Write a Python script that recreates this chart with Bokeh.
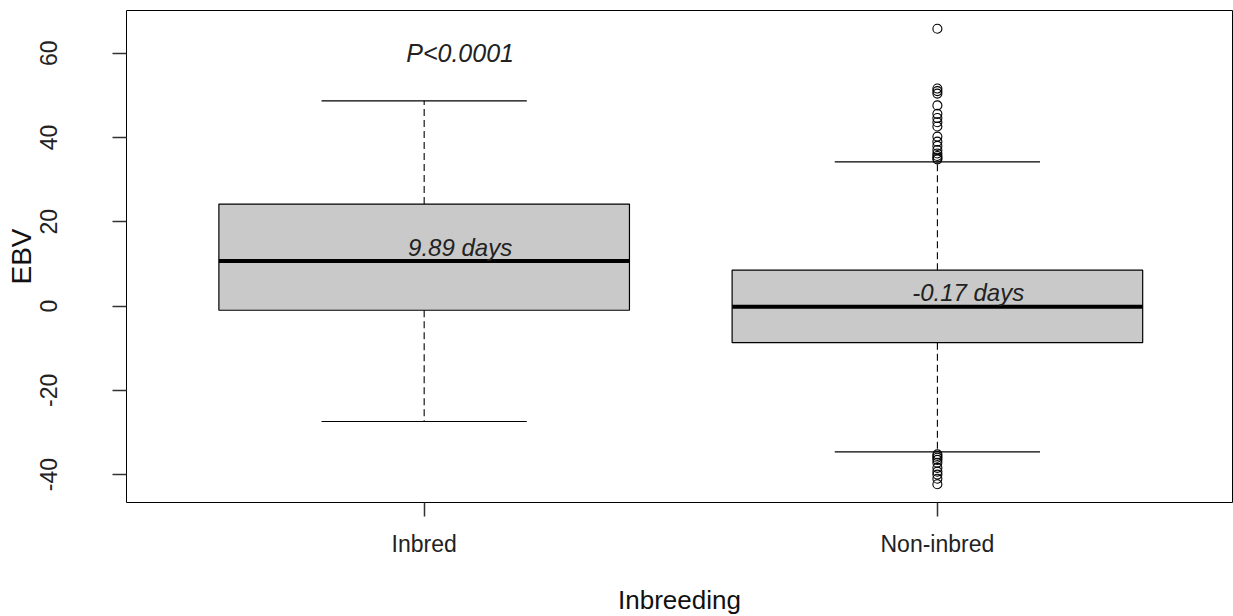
from bokeh.plotting import figure
from bokeh.models import Range1d, FixedTicker
from bokeh.core.properties import value
from bokeh.embed import file_html
from bokeh.resources import INLINE

# ---- data ----
groups = ["Inbred", "Non-inbred"]
lower_whisker = [-27.4, -34.6]
q1 = [-1.0, -8.7]
median = [10.7, -0.2]
q3 = [24.2, 8.5]
upper_whisker = [48.7, 34.2]
outliers_inbred = []
outliers_noninbred = [65.8, 51.6, 51.0, 50.4, 47.6, 45.6, 44.6, 43.6, 42.6, 40.2,
                      39.0, 38.0, 37.0, 36.2, 35.6, 35.2, 34.8,
                      -35.2, -35.6, -36.0, -36.5, -37.2, -38.4, -39.3, -40.0, -41.0, -42.3]
y_ticks = [-40, -20, 0, 20, 40, 60]
y_tick_labels = ["-40", "-20", "0", "20", "40", "60"]
p_text = "P<0.0001"
p_text_pos = (1.07, 60)
median_labels = ["9.89 days", "-0.17 days"]
median_label_pos = [(1.07, 14.0), (2.06, 3.2)]

FONT = "Liberation Sans"
pos = [i + 1 for i in range(len(groups))]
outliers = [outliers_inbred, outliers_noninbred]

allv = lower_whisker + upper_whisker + outliers_inbred + outliers_noninbred
lo, hi = min(allv), max(allv)
pad = 0.04 * (hi - lo)

p = figure(frame_width=1106, frame_height=492,
           x_range=Range1d(0.42, 2.575), y_range=Range1d(lo - pad, hi + pad),
           output_backend="svg", toolbar_location=None, tools="",
           min_border_left=126, min_border_right=1, min_border_top=10, min_border_bottom=110)
p.grid.visible = False
p.outline_line_color = "black"
p.outline_line_width = 1
p.background_fill_color = "white"
p.border_fill_color = "white"

# whiskers (dashed)
p.segment(x0=pos, y0=q3, x1=pos, y1=upper_whisker, line_color="black", line_width=1.1, line_dash="7 4")
p.segment(x0=pos, y0=q1, x1=pos, y1=lower_whisker, line_color="black", line_width=1.1, line_dash="7 4")
# caps
p.segment(x0=[x - 0.2 for x in pos], y0=upper_whisker, x1=[x + 0.2 for x in pos], y1=upper_whisker,
          line_color="black", line_width=1.2)
p.segment(x0=[x - 0.2 for x in pos], y0=lower_whisker, x1=[x + 0.2 for x in pos], y1=lower_whisker,
          line_color="black", line_width=1.2)
# boxes
p.quad(left=[x - 0.4 for x in pos], right=[x + 0.4 for x in pos], bottom=q1, top=q3,
       fill_color="#c8c9c8", line_color="black", line_width=1.2)
# medians
p.segment(x0=[x - 0.4 for x in pos], y0=median, x1=[x + 0.4 for x in pos], y1=median,
          line_color="black", line_width=4)
# outliers
ox, oy = [], []
for x, vals in zip(pos, outliers):
    ox += [x] * len(vals)
    oy += vals
p.scatter(ox, oy, marker="circle", size=9, fill_color=None, line_color="black", line_width=1.1)

# annotations
p.text(x=[p_text_pos[0]], y=[p_text_pos[1]], text=[p_text], text_font=value(FONT),
       text_font_style="italic", text_font_size="25px", text_align="center",
       text_baseline="middle", text_color="#222222")
p.text(x=[a for a, b in median_label_pos], y=[b for a, b in median_label_pos], text=median_labels,
       text_font=value(FONT), text_font_style="italic", text_font_size="24px",
       text_align="center", text_baseline="middle", text_color="#222222")

# axes
p.xaxis.ticker = FixedTicker(ticks=pos)
p.xaxis.major_label_overrides = {x: g for x, g in zip(pos, groups)}
p.yaxis.ticker = FixedTicker(ticks=y_ticks)
p.yaxis.major_label_overrides = {t: s for t, s in zip(y_ticks, y_tick_labels)}
for ax in (p.xaxis[0], p.yaxis[0]):
    ax.axis_line_color = None
    ax.major_tick_out = 14
    ax.major_tick_in = 0
    ax.major_tick_line_color = "#333333"
    ax.major_tick_line_width = 1.5
    ax.minor_tick_line_color = None
    ax.major_label_text_font = FONT
    ax.major_label_text_font_size = "23px"
    ax.major_label_text_color = "#222222"
    ax.axis_label_text_font = FONT
    ax.axis_label_text_font_size = "26px"
    ax.axis_label_text_font_style = "normal"
    ax.axis_label_text_color = "#111111"
p.xaxis.axis_label = "Inbreeding"
p.yaxis.axis_label = "EBV"
p.yaxis.axis_label_text_font_size = "28px"
p.yaxis.major_label_orientation = "vertical"
p.xaxis.major_label_standoff = 14
p.xaxis.axis_label_standoff = 25
p.yaxis.major_label_standoff = 55
p.yaxis.axis_label_standoff = 1

open("out.html", "w").write(file_html(p, INLINE))
